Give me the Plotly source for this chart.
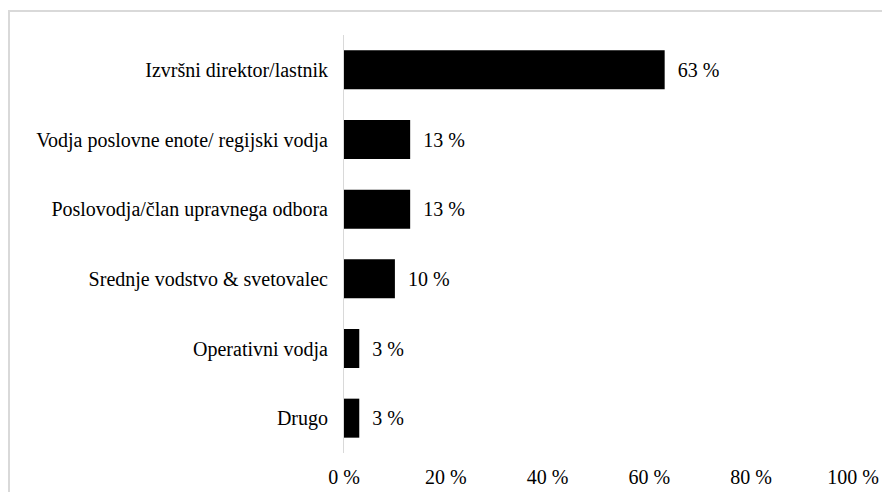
import plotly.graph_objects as go

categories = [
    "Izvršni direktor/lastnik",
    "Vodja poslovne enote/ regijski vodja",
    "Poslovodja/član upravnega odbora",
    "Srednje vodstvo & svetovalec",
    "Operativni vodja",
    "Drugo",
]
values = [63, 13, 13, 10, 3, 3]
labels = ["63 %", "13 %", "13 %", "10 %", "3 %", "3 %"]
x_ticks = [0, 20, 40, 60, 80, 100]
x_tick_text = ["0 %", "20 %", "40 %", "60 %", "80 %", "100 %"]

FONT = "Liberation Serif"
FS = 20

fig = go.Figure(
    go.Bar(
        y=categories,
        x=values,
        orientation="h",
        marker=dict(color="black", line=dict(width=0)),
        text=["\u00a0\u00a0" + t for t in labels],
        textposition="outside",
        textfont=dict(family=FONT, size=FS, color="#000000"),
        cliponaxis=False,
    )
)

fig.update_layout(
    width=882,
    height=484,
    margin=dict(l=336, r=37, t=27, b=39),
    paper_bgcolor="white",
    plot_bgcolor="white",
    bargap=0.44,
    showlegend=False,
    font=dict(family=FONT, size=FS, color="#000000"),
    xaxis=dict(
        range=[0, 100],
        tickvals=x_ticks,
        ticktext=x_tick_text,
        showgrid=False,
        zeroline=False,
        showline=False,
        ticks="",
        automargin=False,
        ticklabelstandoff=10,
        tickfont=dict(family=FONT, size=FS, color="#000000"),
    ),
    yaxis=dict(
        categoryorder="array",
        categoryarray=categories[::-1],
        showgrid=False,
        zeroline=False,
        showline=True,
        linecolor="#d9d9d9",
        linewidth=1,
        ticks="",
        automargin=False,
        ticklabelstandoff=11,
        tickfont=dict(family=FONT, size=FS, color="#000000"),
    ),
    shapes=[
        dict(type="line", xref="paper", yref="paper", xsizemode="pixel", ysizemode="pixel",
             xanchor=0, yanchor=1, x0=-335, x1=-335, y0=24, y1=-500,
             line=dict(color="#d9d9d9", width=2)),
        dict(type="line", xref="paper", yref="paper", xsizemode="pixel", ysizemode="pixel",
             xanchor=0, yanchor=1, x0=-336, x1=560, y0=24, y1=24,
             line=dict(color="#d9d9d9", width=2)),
    ],
)

fig.write_html("out.html")
